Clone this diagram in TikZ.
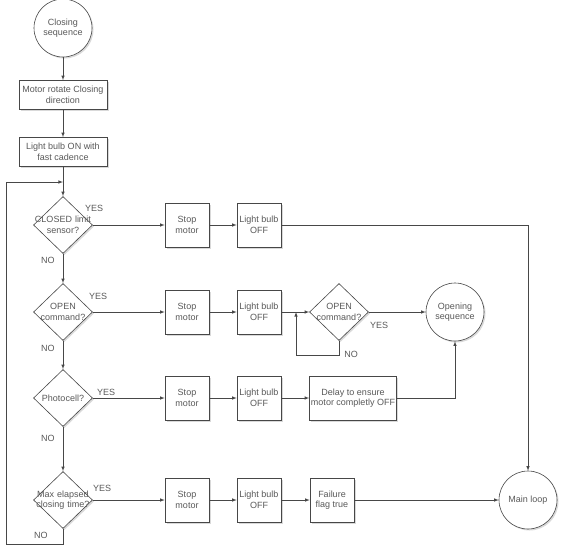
\documentclass[tikz,border=0pt]{standalone}
\usepackage{fontspec}
\setmainfont{Liberation Sans}
\usetikzlibrary{arrows,shapes.geometric,shadows}

\begin{document}
\begin{tikzpicture}[x=1pt,y=-1pt,->,>=latex,semithick,color=black!72,
  every node/.style={font=\fontsize{9}{10.5}\selectfont,text=black!65},
  shade/.style={fill=white,drop shadow={opacity=0.3,shadow xshift=1.5pt,shadow yshift=-1.5pt}},
  block/.style={rectangle,draw,shade,align=center,minimum width=44pt,minimum height=44pt,inner sep=1pt},
  wide/.style={block,minimum width=88pt,minimum height=29pt},
  term/.style={circle,draw,shade,align=center,minimum size=58pt,inner sep=1pt},
  decision/.style={diamond,draw,shade,align=center,text width=64pt,inner xsep=-22pt,inner ysep=0pt,minimum width=59pt,minimum height=57pt},
  yes/.style={at start,anchor=south west,inner sep=0pt},
  no/.style={inner sep=0pt}]
  \useasboundingbox (0,0) rectangle (562,555);

  % main column
  \node[term] (start) at (63,28) {Closing\\sequence};
  \node[wide] (rot) [below of=start,node distance=67pt] {Motor rotate Closing\\direction};
  \node[wide] (bulb) [below of=rot,node distance=57pt] {Light bulb ON with\\fast cadence};
  \node[decision] (closed) [below of=bulb,node distance=73pt] {CLOSED limit\\sensor?};
  \node[decision] (open) [below of=closed,node distance=87pt] {OPEN\\command?};
  \node[decision] (photo) [below of=open,node distance=86pt] {Photocell?};
  \node[decision] (time) [below of=photo,node distance=102pt] {Max elapsed\\closing time?};
  \coordinate[above of=closed,node distance=43pt] (back);

  % rows
  \node[block] (stop1) [right of=closed,node distance=124pt] {Stop\\motor};
  \node[block] (off1) [right of=stop1,node distance=72pt] {Light bulb\\OFF};
  \node[block] (stop2) [right of=open,node distance=124pt] {Stop\\motor};
  \node[block] (off2) [right of=stop2,node distance=72pt] {Light bulb\\OFF};
  \node[decision] (again) [right of=off2,node distance=80pt] {OPEN\\command?};
  \node[term] (opening) [right of=again,node distance=116pt] {Opening\\sequence};
  \coordinate[right of=off2,node distance=37pt] (retry);
  \node[block] (stop3) [right of=photo,node distance=124pt] {Stop\\motor};
  \node[block] (off3) [right of=stop3,node distance=72pt] {Light bulb\\OFF};
  \node[block,minimum width=87pt] (delay) [right of=off3,node distance=94pt] {Delay to ensure\\motor completly OFF};
  \node[block] (stop4) [right of=time,node distance=124pt] {Stop\\motor};
  \node[block] (off4) [right of=stop4,node distance=72pt] {Light bulb\\OFF};
  \node[block] (fail) [right of=off4,node distance=73pt] {Failure\\flag true};
  \node[term] (main) [right of=fail,node distance=196pt] {Main loop};

  \path (start) edge (rot);
  \path (rot) edge (bulb);
  \path (bulb) edge (closed);
  \path (closed) edge node[no,pos=0.23,left=8pt] {NO} (open);
  \path (open) edge node[no,pos=0.28,left=8pt] {NO} (photo);
  \path (photo) edge node[no,pos=0.27,left=8pt] {NO} (time);
  \draw (time.south) |- node[no,pos=0.23,left=15pt] {NO} ++(-57,15) |- (back);

  \path (closed) edge node[yes,xshift=-8pt,yshift=13pt] {YES} (stop1);
  \path (stop1) edge (off1);
  \draw (off1) -| (main);

  \path (open) edge node[yes,xshift=-4pt,yshift=12pt] {YES} (stop2);
  \path (stop2) edge (off2);
  \path (off2) edge (again);
  \path (again) edge node[yes,anchor=north west,xshift=1pt,yshift=-10pt] {YES} (opening);
  \draw (again.south) -- ++(0,14) node[no,right=5pt] {NO} -| (retry);

  \path (photo) edge node[yes,xshift=4pt,yshift=2pt] {YES} (stop3);
  \path (stop3) edge (off3);
  \path (off3) edge (delay);
  \draw (delay) -| (opening);

  \path (time) edge node[yes,xshift=0pt,yshift=8pt] {YES} (stop4);
  \path (stop4) edge (off4);
  \path (off4) edge (fail);
  \path (fail) edge (main);
\end{tikzpicture}
\end{document}
